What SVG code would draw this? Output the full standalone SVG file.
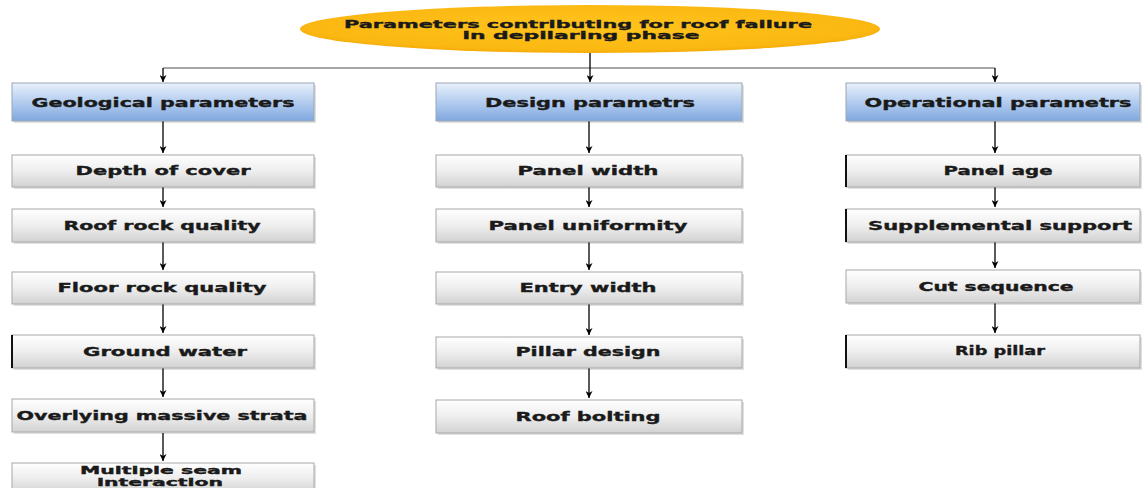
<svg xmlns="http://www.w3.org/2000/svg" width="1143" height="488" viewBox="0 0 1143 488">
<defs>
<radialGradient id="gEll" cx="0.5" cy="0.45" r="0.6">
<stop offset="0" stop-color="#ffc41c"/>
<stop offset="0.8" stop-color="#fbb812"/>
<stop offset="1" stop-color="#f0a200"/>
</radialGradient>
<linearGradient id="gBlue" x1="0" y1="0" x2="0" y2="1">
<stop offset="0" stop-color="#eaf1fb"/>
<stop offset="0.45" stop-color="#b8d0f0"/>
<stop offset="1" stop-color="#80a8e0"/>
</linearGradient>
<linearGradient id="gGray" x1="0" y1="0" x2="0" y2="1">
<stop offset="0" stop-color="#ffffff"/>
<stop offset="0.5" stop-color="#eeeeee"/>
<stop offset="1" stop-color="#d2d2d2"/>
</linearGradient>
<marker id="arr" viewBox="0 0 10 10" refX="10" refY="5" markerWidth="7" markerHeight="7" markerUnits="userSpaceOnUse" orient="auto">
<path d="M0,0 L10,5 L0,10 L3,5 Z" fill="#000"/>
</marker>
</defs>
<style>
.t{font-family:"DejaVu Sans","Verdana",sans-serif;font-weight:bold;font-size:12px;fill:#1a1a1a;stroke:#1a1a1a;stroke-width:0.35;text-anchor:middle}
.e{font-size:11px}
.m{font-size:10px}
.hdr{fill:url(#gBlue);stroke:#9aa6b4;stroke-width:1}
.box{fill:url(#gGray);stroke:#a8a8a8;stroke-width:1}
.sh{fill:#000;opacity:0.12}
.edge{stroke:#111;stroke-width:2}
.c{stroke:#000;stroke-width:1.3;fill:none;marker-end:url(#arr)}
.h{stroke:#8a8a8a;stroke-width:1.3;fill:none}
</style>
<rect width="1143" height="488" fill="#fff"/>

<g id="root">
<ellipse cx="590" cy="29" rx="290" ry="24" fill="url(#gEll)"/>
<text class="t e" x="578" y="28" textLength="468" lengthAdjust="spacingAndGlyphs">Parameters contributing for roof failure</text>
<text class="t e" x="581" y="39" textLength="237" lengthAdjust="spacingAndGlyphs">in depilaring phase</text>
</g>

<g id="connectors">
<path class="h" d="M163,68 H995"/>
<path class="c" d="M590,53 V82"/>
<path class="c" d="M163,68 V82"/>
<path class="c" d="M995,68 V82"/>
<path class="c" d="M163,121 V153"/>
<path class="c" d="M163,187 V207"/>
<path class="c" d="M163,242 V270"/>
<path class="c" d="M163,304 V333"/>
<path class="c" d="M163,368 V397"/>
<path class="c" d="M163,433 V461"/>
<path class="c" d="M589,121 V153"/>
<path class="c" d="M589,187 V207"/>
<path class="c" d="M589,242 V270"/>
<path class="c" d="M589,304 V335"/>
<path class="c" d="M589,368 V398"/>
<path class="c" d="M995,121 V153"/>
<path class="c" d="M995,187 V207"/>
<path class="c" d="M995,242 V268"/>
<path class="c" d="M995,303 V333"/>
</g>

<g id="geological">
<rect class="sh" x="14" y="85" width="302" height="38"/>
<rect class="hdr" x="12" y="83" width="302" height="38"/>
<text class="t" x="163" y="107" textLength="263" lengthAdjust="spacingAndGlyphs">Geological parameters</text>
</g>
<g id="design">
<rect class="sh" x="438" y="85" width="306" height="38"/>
<rect class="hdr" x="436" y="83" width="306" height="38"/>
<text class="t" x="590" y="107" textLength="210" lengthAdjust="spacingAndGlyphs">Design parametrs</text>
</g>
<g id="operational">
<rect class="sh" x="848" y="85" width="294" height="38"/>
<rect class="hdr" x="846" y="83" width="294" height="38"/>
<text class="t" x="998" y="107" textLength="267" lengthAdjust="spacingAndGlyphs">Operational parametrs</text>
</g>

<g id="depth">
<rect class="sh" x="14" y="157" width="302" height="32"/>
<rect class="box" x="12" y="155" width="302" height="32"/>
<text class="t" x="163" y="175" textLength="175" lengthAdjust="spacingAndGlyphs">Depth of cover</text>
</g>
<g id="roofrock">
<rect class="sh" x="14" y="211" width="302" height="33"/>
<rect class="box" x="12" y="209" width="302" height="33"/>
<text class="t" x="162" y="230" textLength="197" lengthAdjust="spacingAndGlyphs">Roof rock quality</text>
</g>
<g id="floorrock">
<rect class="sh" x="14" y="274" width="302" height="32"/>
<rect class="box" x="12" y="272" width="302" height="32"/>
<text class="t" x="162" y="292" textLength="209" lengthAdjust="spacingAndGlyphs">Floor rock quality</text>
</g>
<g id="groundwater">
<rect class="sh" x="14" y="337" width="302" height="33"/>
<rect class="box" x="12" y="335" width="302" height="33"/>
<line class="edge" x1="12" y1="335" x2="12" y2="368"/>
<text class="t" x="165" y="356" textLength="164" lengthAdjust="spacingAndGlyphs">Ground water</text>
</g>
<g id="overlying">
<rect class="sh" x="14" y="401" width="302" height="33"/>
<rect class="box" x="12" y="399" width="302" height="33"/>
<text class="t" x="162" y="420" textLength="291" lengthAdjust="spacingAndGlyphs">Overlying massive strata</text>
</g>
<g id="multiple">
<rect class="sh" x="14" y="465" width="302" height="30"/>
<rect class="box" x="12" y="463" width="302" height="30"/>
<text class="t m" x="161" y="474" textLength="162" lengthAdjust="spacingAndGlyphs">Multiple seam</text>
<text class="t m" x="160" y="486" textLength="126" lengthAdjust="spacingAndGlyphs">interaction</text>
</g>

<g id="panelwidth">
<rect class="sh" x="438" y="157" width="306" height="32"/>
<rect class="box" x="436" y="155" width="306" height="32"/>
<text class="t" x="588" y="175" textLength="141" lengthAdjust="spacingAndGlyphs">Panel width</text>
</g>
<g id="paneluniformity">
<rect class="sh" x="438" y="211" width="306" height="33"/>
<rect class="box" x="436" y="209" width="306" height="33"/>
<text class="t" x="588" y="230" textLength="199" lengthAdjust="spacingAndGlyphs">Panel uniformity</text>
</g>
<g id="entrywidth">
<rect class="sh" x="438" y="274" width="306" height="32"/>
<rect class="box" x="436" y="272" width="306" height="32"/>
<text class="t" x="588" y="292" textLength="137" lengthAdjust="spacingAndGlyphs">Entry width</text>
</g>
<g id="pillardesign">
<rect class="sh" x="438" y="339" width="306" height="31"/>
<rect class="box" x="436" y="337" width="306" height="31"/>
<text class="t" x="588" y="356" textLength="145" lengthAdjust="spacingAndGlyphs">Pillar design</text>
</g>
<g id="roofbolting">
<rect class="sh" x="438" y="402" width="306" height="33"/>
<rect class="box" x="436" y="400" width="306" height="33"/>
<text class="t" x="588" y="421" textLength="145" lengthAdjust="spacingAndGlyphs">Roof bolting</text>
</g>

<g id="panelage">
<rect class="sh" x="848" y="157" width="294" height="32"/>
<rect class="box" x="846" y="155" width="294" height="32"/>
<line class="edge" x1="846" y1="155" x2="846" y2="187"/>
<text class="t" x="998" y="175" textLength="109" lengthAdjust="spacingAndGlyphs">Panel age</text>
</g>
<g id="supplemental">
<rect class="sh" x="848" y="211" width="294" height="33"/>
<rect class="box" x="846" y="209" width="294" height="33"/>
<line class="edge" x1="846" y1="209" x2="846" y2="242"/>
<text class="t" x="1000" y="230" textLength="264" lengthAdjust="spacingAndGlyphs">Supplemental support</text>
</g>
<g id="cutsequence">
<rect class="sh" x="848" y="272" width="294" height="33"/>
<rect class="box" x="846" y="270" width="294" height="33"/>
<text class="t" x="996" y="291" textLength="155" lengthAdjust="spacingAndGlyphs">Cut sequence</text>
</g>
<g id="ribpillar">
<rect class="sh" x="848" y="337" width="294" height="33"/>
<rect class="box" x="846" y="335" width="294" height="33"/>
<line class="edge" x1="846" y1="335" x2="846" y2="368"/>
<text class="t" x="1000" y="355" textLength="90" lengthAdjust="spacingAndGlyphs">Rib pillar</text>
</g>
</svg>
